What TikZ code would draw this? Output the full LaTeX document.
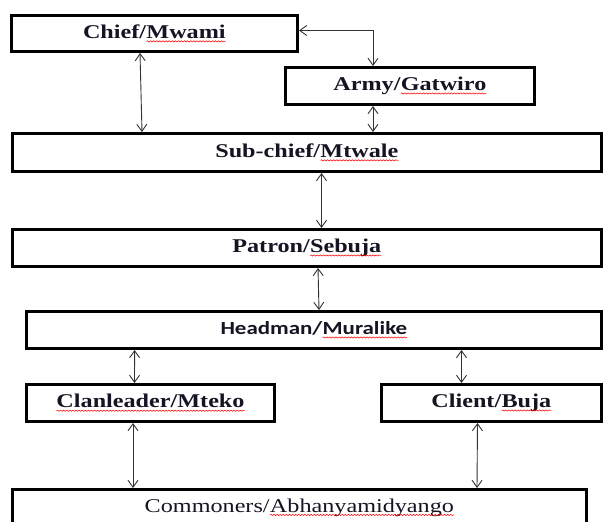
\documentclass[tikz,border=0pt]{standalone}
\usepackage{fontspec}
\setmainfont{Liberation Serif}
\newfontfamily\calib{Carlito}
\usetikzlibrary{arrows.meta,decorations.pathmorphing}
\definecolor{txt}{RGB}{20,20,35}
\definecolor{arrc}{RGB}{50,50,50}
\newcommand\squig[1]{\tikz[baseline=(w.base)]{\node[inner sep=0pt,outer sep=0pt,draw=none,minimum width=0pt,minimum height=0pt,line width=0.4pt] (w) {#1};\draw[red,line width=0.5pt,decorate,decoration={snake,amplitude=0.6pt,segment length=2.5pt}] ([yshift=-2.8pt]w.base west) -- ([yshift=-2.8pt]w.base east);}}
\newcommand\wide[1]{\scalebox{1.24}[1]{#1}}
\begin{document}
\begin{tikzpicture}[x=1pt,y=-1pt,
  bx/.style={draw=black,line width=3pt,rectangle,inner sep=0pt,text=txt,
    font=\fontsize{19.5}{22}\selectfont\bfseries},
  arr/.style={draw=arrc,line width=0.9pt,{Straight Barb[length=7pt,width=10pt]}-{Straight Barb[length=7pt,width=10pt]}}]
\useasboundingbox (0,0) rectangle (603,522);
\node[bx,minimum width=286pt,minimum height=36pt] (chief) at (154.5,33.5) {\wide{Chief/\squig{Mwami}}};
\node[bx,minimum width=249pt,minimum height=37pt] (army) at (410,86) {\wide{Army/\squig{Gatwiro}}};
\node[bx,minimum width=589pt,minimum height=38pt] (sub) at (307,152.5) {\wide{Sub-chief/\squig{Mtwale}}};
\node[bx,minimum width=589pt,minimum height=37pt] (patron) at (307,248) {\wide{Patron/\squig{Sebuja}}};
\node[bx,minimum width=575pt,minimum height=37pt,font=\calib\fontsize{18.5}{22}\selectfont\bfseries] (head) at (314,330) {\wide{Headman/\squig{Muralike}}};
\node[bx,minimum width=248pt,minimum height=37pt] (clan) at (150.5,403) {\wide{\squig{Clanleader/Mteko}}};
\node[bx,minimum width=220pt,minimum height=37pt] (client) at (491.5,403) {\wide{Client/\squig{Buja}}};
\node[bx,minimum width=574pt,minimum height=36pt,font=\fontsize{19.5}{22}\selectfont] (comm) at (299.5,507.5) {\wide{Commoners/\squig{Abhanyamidyango}}};
\draw[arr] ([xshift=-14.5pt]chief.south) -- ([xshift=-165pt]sub.north);
\draw[arr] ([yshift=3pt]chief.east) -| ([xshift=-37pt]army.north);
\draw[arr] ([xshift=-37pt]army.south) -- ([xshift=66pt]sub.north);
\draw[arr] ([xshift=14.5pt]sub.south) -- ([xshift=14.5pt]patron.north);
\draw[arr] ([xshift=11pt]patron.south) -- ([xshift=5pt]head.north);
\draw[arr] ([xshift=-179.4pt]head.south) -- ([xshift=-16pt]clan.north);
\draw[arr] ([xshift=147.5pt]head.south) -- ([xshift=-30pt]client.north);
\draw[arr] ([xshift=-17.5pt]clan.south) -- ([xshift=-166.5pt]comm.north);
\draw[arr] ([xshift=-14pt]client.south) -- ([xshift=177.5pt]comm.north);
\end{tikzpicture}
\end{document}
